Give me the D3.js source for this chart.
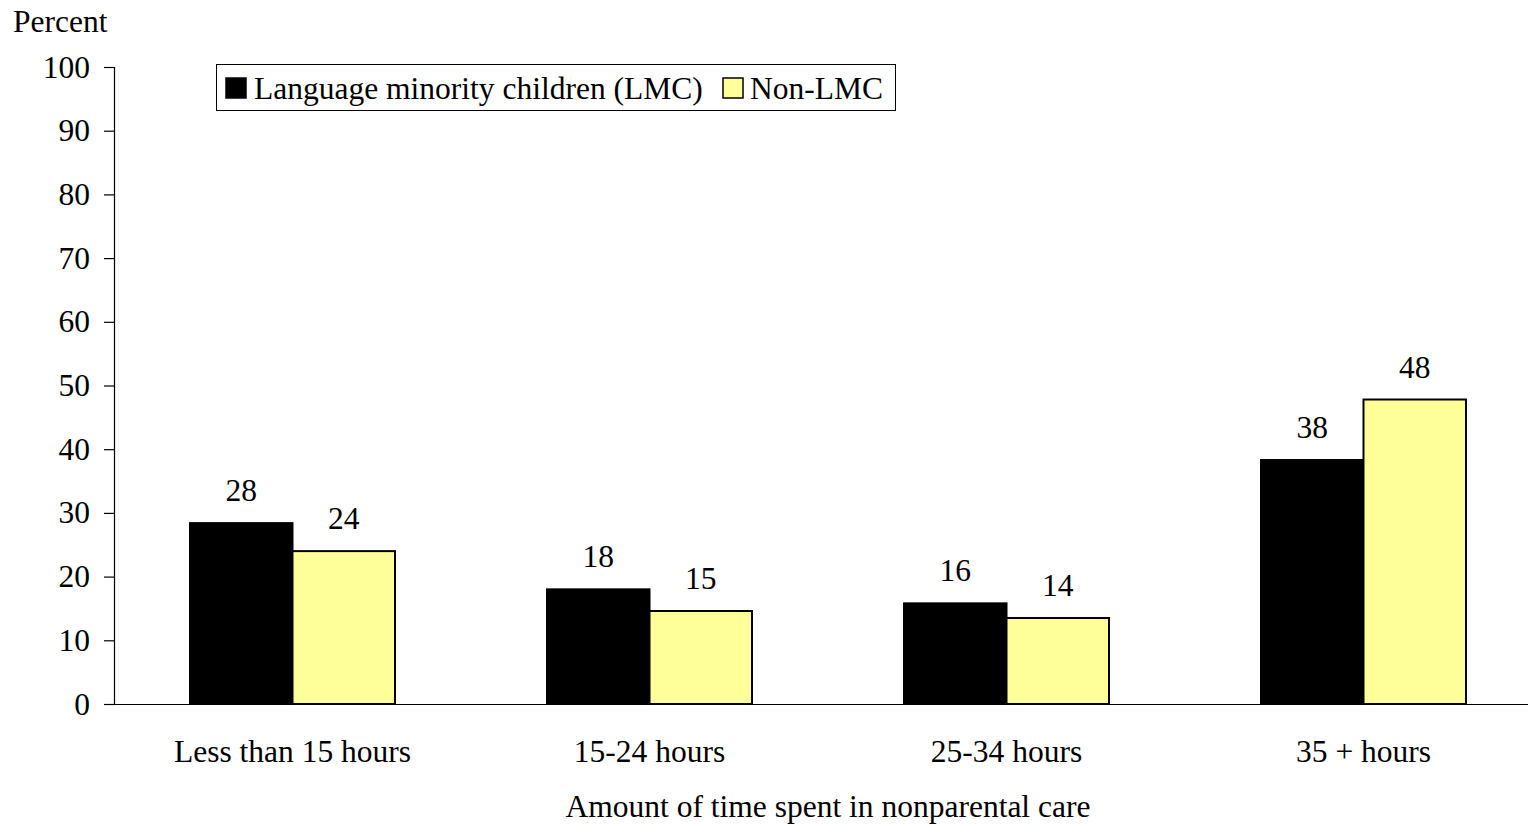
<!DOCTYPE html>
<html>
<head>
<meta charset="utf-8">
<script src="https://cdn.jsdelivr.net/npm/d3@7/dist/d3.min.js"></script>
<style>
  html, body { margin: 0; padding: 0; background: #fff; }
  svg { display: block; }
  text { font-family: "Liberation Serif", "Times New Roman", serif; fill: #000; }
</style>
</head>
<body>
<svg id="chart" width="1528" height="825"></svg>
<script>
const categories = ["Less than 15 hours", "15-24 hours", "25-34 hours", "35 + hours"];
const seriesNames = ["Language minority children (LMC)", "Non-LMC"];
const lmcValues = [28.4, 18.0, 15.8, 38.3];
const nonLmcValues = [24.0, 14.6, 13.5, 47.8];
const lmcLabels = ["28", "18", "16", "38"];
const nonLmcLabels = ["24", "15", "14", "48"];
const yTicks = [0, 10, 20, 30, 40, 50, 60, 70, 80, 90, 100];
const colors = ["#000000", "#FFFF99"];

const svg = d3.select("#chart");
const W = 1528, H = 825;
const x0 = 114, yBase = 704, yTop = 67;
const fs = 31.5;

const x = d3.scaleBand().domain(categories).range([x0, x0 + 1428])
  .paddingInner(0.4258).paddingOuter(0.2129);
const xs = d3.scaleBand().domain(seriesNames).range([0, x.bandwidth()]);
const y = d3.scaleLinear().domain([0, 100]).range([yBase, yTop]);

const rows = categories.map((c, i) => ({
  cat: c,
  vals: [
    {s: seriesNames[0], v: lmcValues[i], lab: lmcLabels[i], col: colors[0]},
    {s: seriesNames[1], v: nonLmcValues[i], lab: nonLmcLabels[i], col: colors[1]}
  ]
}));

// Y axis
const yAxis = d3.axisLeft(y).tickValues(yTicks).tickSize(10).tickPadding(14).tickFormat(d3.format("d"));
const yg = svg.append("g").attr("transform", `translate(${x0},0)`).call(yAxis);
yg.select(".domain").attr("stroke", "#000").attr("stroke-width", 1.2);
yg.selectAll(".tick line").attr("stroke", "#000").attr("stroke-width", 1.2);
yg.selectAll(".tick text").attr("font-size", fs).attr("font-family", "Liberation Serif").attr("fill", "#000");

// bars
const g = svg.append("g");
const grp = g.selectAll("g.grp").data(rows).join("g")
  .attr("transform", d => `translate(${x(d.cat)},0)`);
grp.selectAll("rect").data(d => d.vals).join("rect")
  .attr("x", d => xs(d.s))
  .attr("y", d => y(d.v))
  .attr("width", xs.bandwidth())
  .attr("height", d => yBase - y(d.v))
  .attr("fill", d => d.col)
  .attr("stroke", "#000")
  .attr("stroke-width", 2);
grp.selectAll("text").data(d => d.vals).join("text")
  .attr("x", d => xs(d.s) + xs.bandwidth() / 2)
  .attr("y", d => y(d.v) - 22)
  .attr("text-anchor", "middle")
  .attr("font-size", fs)
  .text(d => d.lab);

// X axis line
const xAxis = d3.axisBottom(x).tickSize(0).tickPadding(36);
const xg = svg.append("g").attr("transform", `translate(0,${yBase})`).call(xAxis);
xg.select(".domain").attr("stroke", "#000").attr("stroke-width", 1.2)
  .attr("d", `M${x0},0.5H${W}`);
xg.selectAll(".tick text").attr("font-size", fs).attr("font-family", "Liberation Serif").attr("fill", "#000");

// Titles
svg.append("text").attr("x", 13).attr("y", 32).attr("font-size", fs).text("Percent");
svg.append("text").attr("x", 828).attr("y", 817).attr("text-anchor", "middle")
  .attr("font-size", fs).text("Amount of time spent in nonparental care");

// Legend
const lg = svg.append("g");
lg.append("rect").attr("x", 216.5).attr("y", 64.5).attr("width", 679).attr("height", 46)
  .attr("fill", "#fff").attr("stroke", "#000").attr("stroke-width", 1);
const legItems = [
  {name: seriesNames[0], col: colors[0], sx: 226, tx: 254},
  {name: seriesNames[1], col: colors[1], sx: 723, tx: 750}
];
legItems.forEach(it => {
  lg.append("rect").attr("x", it.sx).attr("y", 78).attr("width", 20).attr("height", 20)
    .attr("fill", it.col).attr("stroke", "#000").attr("stroke-width", 1.5);
  lg.append("text").attr("x", it.tx).attr("y", 99).attr("font-size", fs).text(it.name);
});
</script>
</body>
</html>
